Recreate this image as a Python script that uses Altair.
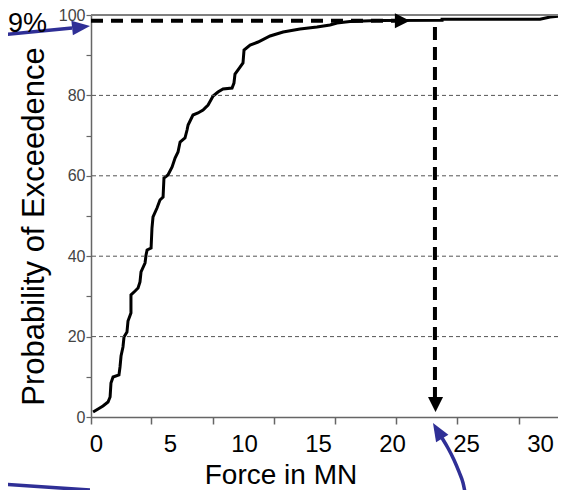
import altair as alt
import pandas as pd

# ---- data ----
FORCE = [-0.20, 0.14, 0.47, 0.81, 0.95, 1.01, 1.15, 1.55, 1.62, 1.69,
         1.82, 1.89, 2.09, 2.16, 2.36, 2.36, 2.64, 2.84, 2.97, 3.04,
         3.31, 3.38, 3.45, 3.72, 3.78, 3.85, 4.12, 4.32, 4.53, 4.59,
         4.86, 5.14, 5.34, 5.54, 5.68, 6.01, 6.15, 6.22, 6.55, 6.89,
         7.23, 7.57, 7.91, 8.24, 8.58, 9.19, 9.32, 9.39, 9.73, 9.93,
         10.00, 10.41, 10.95, 11.76, 12.64, 13.78, 14.93, 15.81, 16.28, 17.16,
         18.99, 23.38, 23.38, 30.00, 30.68, 31.55]
PROB = [1.24, 1.99, 2.74, 3.73, 4.98, 8.46, 9.95, 10.45, 12.44, 15.17,
        17.41, 19.90, 21.14, 23.88, 25.87, 30.35, 31.34, 32.09, 33.58, 36.07,
        38.31, 40.30, 41.54, 42.04, 47.01, 49.75, 51.99, 53.98, 54.73, 59.45,
        60.20, 62.19, 64.43, 65.92, 68.41, 69.40, 71.39, 72.64, 75.12, 75.62,
        76.37, 77.61, 79.85, 80.85, 81.59, 81.84, 83.08, 85.32, 87.06, 88.06,
        91.29, 92.54, 93.28, 94.78, 95.77, 96.52, 97.01, 97.51, 98.01, 98.38,
        98.63, 98.68, 98.93, 98.93, 99.50, 99.80]

X_LABELS = [0, 5, 10, 15, 20, 25, 30]
X_TICKS = [-0.34, 3.72, 7.91, 12.03, 16.15, 20.27, 24.39, 28.58]
Y_TICKS = [0, 10, 20, 30, 40, 50, 60, 70, 80, 90, 100]
GRID_Y = [20, 40, 60, 80]
TOP_Y = [100]

LEVEL = 98.6            # the "99%" exceedance level
H_ARROW_X = [-0.34, 20.2]
H_HEAD = (20.7, 98.6)
V_ARROW_X = 22.9
V_ARROW_Y = [97.0, 4.9]
V_HEAD = (22.94, 3.1)

BLUE_TOP_X = [-6.49, -1.62]
BLUE_TOP_Y = [95.0, 96.77]
BLUE_TOP_HEAD = (-1.01, 97.0)
BLUE_LEFT_X = [-6.49, -0.41]
BLUE_LEFT_Y = [-16.67, -18.16]
BLUE_BOT_X = [23.38, 23.78, 24.19, 24.53, 24.80, 24.93]
BLUE_BOT_Y = [-5.22, -7.71, -10.70, -13.68, -16.42, -18.66]
BLUE_BOT_HEAD = (23.08, -3.41)
NOTE_POS = (-5.95, 95.77)
NOTE_TEXT = "9%"

FONT = "Liberation Sans"
BLUE = "#2f2f96"

xs = alt.Scale(domain=[-0.34, 31.215], nice=False, zero=False)
ys = alt.Scale(domain=[0, 100], nice=False, zero=False)

x_axis = alt.Axis(
    values=sorted(X_LABELS + X_TICKS),
    labelExpr="datum.value % 5 === 0 ? datum.label : ''",
    labelFlush=False, labelOverlap=False,
    tickOpacity={"condition": {"test": "datum.value % 5 === 0", "value": 0}, "value": 1},
    tickSize=7, tickColor="#666666", tickWidth=1.5,
    domainColor="#666666", domainWidth=1.5,
    labelFont=FONT, labelFontSize=24, labelColor="black", labelPadding=8,
    grid=False,
    title="Force in MN", titleFont=FONT, titleFontSize=28, titleFontWeight="normal",
    titleColor="black", titleX=189.5, titleY=66.5, titleAlign="center",
    titleBaseline="alphabetic",
)
y_axis = alt.Axis(
    values=Y_TICKS,
    labelExpr="datum.value % 20 === 0 ? datum.label : ''",
    labelOverlap=False, labelFlush=False,
    tickSize=5, tickColor="#666666", tickWidth=1.2,
    domainColor="#666666", domainWidth=1.5,
    labelFont=FONT, labelFontSize=16, labelColor="#444444", labelPadding=1,
    grid=False,
    title="Probability of Exceedence", titleFont=FONT, titleFontSize=31,
    titleFontWeight="normal", titleColor="black", titleAngle=270,
    titleX=-48, titleY=211, titleAlign="center", titleBaseline="alphabetic",
)

curve_df = pd.DataFrame({"force": FORCE, "prob": PROB, "i": list(range(len(FORCE)))})


def X(f):
    return alt.X(f, type="quantitative", scale=xs, axis=x_axis)


def Y(f):
    return alt.Y(f, type="quantitative", scale=ys, axis=y_axis)


curve = alt.Chart(curve_df).mark_line(color="black", strokeWidth=3).encode(
    x=X("force"), y=Y("prob"), order="i:Q")

grid = alt.Chart(pd.DataFrame({"g": GRID_Y})).mark_rule(
    color="#555555", strokeWidth=1, strokeDash=[4, 3]).encode(y=Y("g"))
top = alt.Chart(pd.DataFrame({"t": TOP_Y})).mark_rule(
    color="#808080", strokeWidth=2).encode(y=Y("t"))

hline = alt.Chart(pd.DataFrame({"x1": [H_ARROW_X[0]], "x2": [H_ARROW_X[1]], "y": [LEVEL]})).mark_rule(
    color="black", strokeWidth=4, strokeDash=[12, 8]).encode(x=X("x1"), x2="x2:Q", y=Y("y"))
vline = alt.Chart(pd.DataFrame({"x": [V_ARROW_X], "y1": [V_ARROW_Y[0]], "y2": [V_ARROW_Y[1]]})).mark_rule(
    color="black", strokeWidth=4, strokeDash=[13, 7]).encode(x=X("x"), y=Y("y1"), y2="y2:Q")

hhead = alt.Chart(pd.DataFrame({"x": [H_HEAD[0]], "y": [H_HEAD[1]]})).mark_point(
    filled=True, color="black", opacity=1, size=225, shape="M-1,-1L1,0L-1,1Z").encode(x=X("x"), y=Y("y"))
vhead = alt.Chart(pd.DataFrame({"x": [V_HEAD[0]], "y": [V_HEAD[1]]})).mark_point(
    filled=True, color="black", opacity=1, size=225, shape="M-1,-1L1,-1L0,1Z").encode(x=X("x"), y=Y("y"))

blue_rows = []
for g, (xx, yy) in enumerate([(BLUE_TOP_X, BLUE_TOP_Y), (BLUE_LEFT_X, BLUE_LEFT_Y), (BLUE_BOT_X, BLUE_BOT_Y)]):
    for k, (a, b) in enumerate(zip(xx, yy)):
        blue_rows.append({"x": a, "y": b, "grp": g, "i": k})
blue_lines = alt.Chart(pd.DataFrame(blue_rows)).mark_line(
    color=BLUE, strokeWidth=3.5, interpolate="monotone").encode(
    x=X("x"), y=Y("y"), detail="grp:N", order="i:Q")

ARROW = "M-1,-0.8L1,0L-1,0.8Z"
bhead1 = alt.Chart(pd.DataFrame({"x": [BLUE_TOP_HEAD[0]], "y": [BLUE_TOP_HEAD[1]]})).mark_point(
    filled=True, color=BLUE, opacity=1, size=324, shape=ARROW, angle=354).encode(x=X("x"), y=Y("y"))
bhead2 = alt.Chart(pd.DataFrame({"x": [BLUE_BOT_HEAD[0]], "y": [BLUE_BOT_HEAD[1]]})).mark_point(
    filled=True, color=BLUE, opacity=1, size=324, shape=ARROW, angle=239).encode(x=X("x"), y=Y("y"))

note = alt.Chart(pd.DataFrame({"x": [NOTE_POS[0]], "y": [NOTE_POS[1]]})).mark_text(
    text=NOTE_TEXT, align="left", baseline="alphabetic", fontSize=27, font=FONT, color="black").encode(
    x=X("x"), y=Y("y"))

chart = alt.layer(curve, grid, top, hline, vline, hhead, vhead,
                  blue_lines, bhead1, bhead2, note).properties(
    width=467, height=402,
    autosize=alt.AutoSizeParams(type="none"),
    padding={"left": 83, "top": 7, "right": 0, "bottom": 73},
    background="white",
).configure_view(stroke=None)

chart.save("out.html", embed_options={"renderer": "svg", "actions": False})
